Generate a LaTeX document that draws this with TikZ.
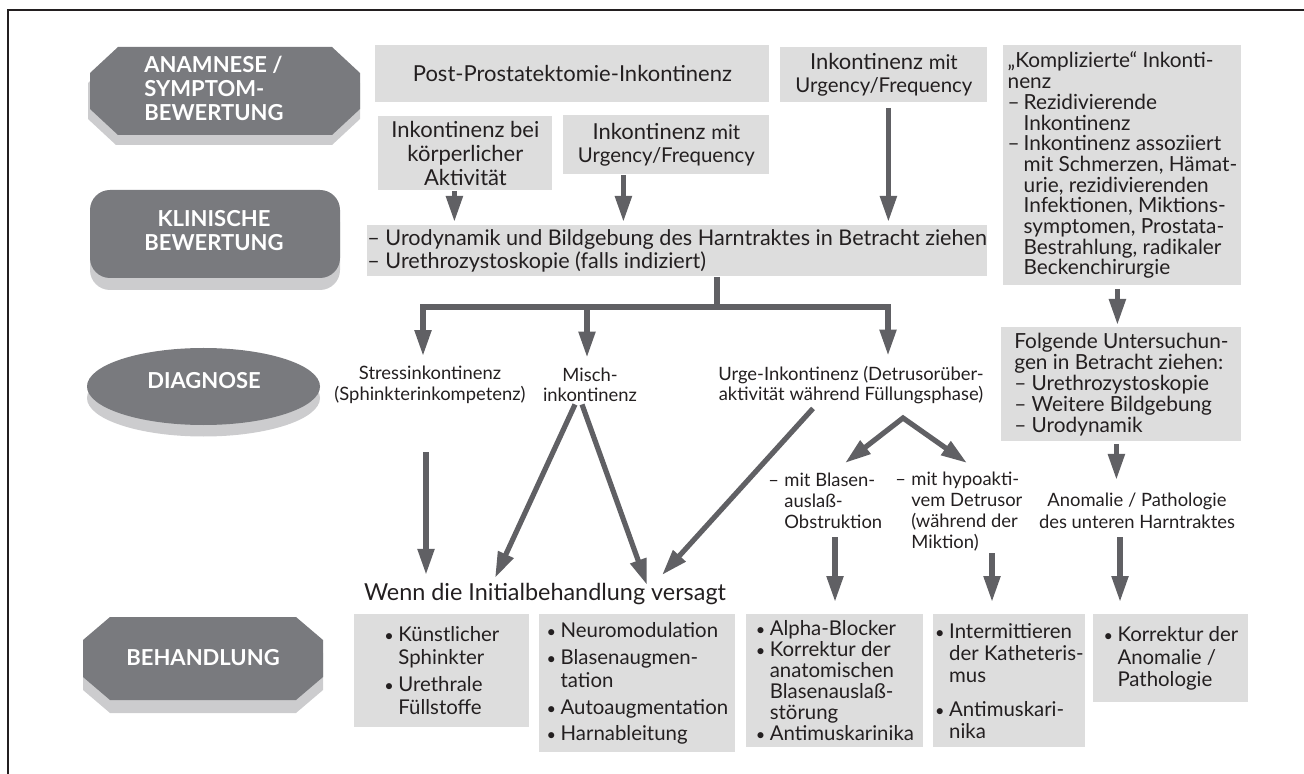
\documentclass[tikz,border=0pt]{standalone}
\usepackage{fontspec}
\setmainfont{Lato}
\usepackage{tikz}
\usetikzlibrary{arrows.meta, positioning}

\definecolor{kastengrau}{gray}{0.865}
\definecolor{stufengrau}{RGB}{121,122,126}
\definecolor{schatten}{RGB}{204,204,206}
\definecolor{pfeilgrau}{RGB}{96,96,100}
\definecolor{schrift}{RGB}{35,31,32}

% Einzuege fuer Listen
\newcommand{\strich}{\makebox[8pt][l]{–}}
\newcommand{\einzug}{\hspace*{8pt}}
\newcommand{\pkt}{\makebox[7pt][l]{\scalebox{0.8}{\textbullet}}}
\newcommand{\pktein}{\hspace*{7pt}}
\newcommand{\klein}{\fontsize{10.2}{11.5}\selectfont}

% Achteck mit abgeschraegten Ecken: Farbe, x1, y1, x2, y2, dx, dy
\newcommand{\achteck}[7]{%
	\fill[#1] (#2+#6,#3) -- (#4-#6,#3) -- (#4,#3+#7) -- (#4,#5-#7) -- (#4-#6,#5) -- (#2+#6,#5) -- (#2,#5-#7) -- (#2,#3+#7) -- cycle;}

\begin{document}
\begin{tikzpicture}[x=0.5pt, y=-0.5pt,
	kasten/.style={fill=kastengrau, anchor=north west, inner sep=0pt, align=left, text=schrift},
	etikett/.style={inner sep=0pt, text=schrift, font=\fontsize{9.2}{10.2}\selectfont},
	stufe/.style={inner sep=0pt, text=white, font=\fontsize{11}{12}\selectfont\bfseries},
	linie/.style={draw=pfeilgrau, line width=2.6pt, line join=miter},
	spitze/.tip={Triangle[length=13pt, width=8pt]},
	pfeil/.style={linie, -spitze}]

\useasboundingbox (0,0) rectangle (1304,774);

% Rahmen
\draw[schrift, line width=0.75pt] (8,774) -- (8,10) -- (1304,10);

% Stufen links (mit Schatten)
\achteck{schatten}{88}{57}{360}{145}{28}{26}
\achteck{stufengrau}{90}{47}{360}{135}{28}{26}
\fill[schatten, rounded corners=10pt] (90,202) rectangle (340,290);
\fill[stufengrau, rounded corners=10pt] (90,190) rectangle (340,278);
\fill[schatten] (203.5,398) ellipse [x radius=58.25pt, y radius=19.25pt];
\fill[stufengrau] (203.5,386.5) ellipse [x radius=58.25pt, y radius=19.25pt];
\achteck{schatten}{83}{630}{323}{713}{27}{23}
\achteck{stufengrau}{83}{617}{323}{700}{27}{23}

\node[stufe, align=left] (anamnese) at (214,88) {ANAMNESE /\\SYMPTOM-\\BEWERTUNG};
\node[stufe, align=center] (klinisch) at (214,231) {KLINISCHE\\BEWERTUNG};
\node[stufe] (diagnose) at (204,381) {DIAGNOSE};
\node[stufe] (behandlung) at (203,658) {BEHANDLUNG};

% Anamnese / Symptombewertung
\node[kasten, minimum width=197pt, minimum height=28.5pt, align=center, font=\fontsize{11}{12}\selectfont] (post) at (375,45) {Post-Prostatektomie-Inkontinenz};
\node[kasten, minimum width=103.5pt, minimum height=27.5pt, align=center, font=\fontsize{11}{11.5}\selectfont] (urgtop) at (780,47) {Inkontinenz {\klein mit}\\{\klein Urgency/Frequency}};
\node[kasten, minimum width=87pt, minimum height=37pt, align=center, font=\fontsize{11}{11.8}\selectfont] (aktiv) at (378,116) {Inkontinenz bei\\körperlicher\\Aktivität};
\node[kasten, minimum width=103pt, minimum height=29.5pt, align=center, font=\fontsize{11}{11.5}\selectfont] (urgmid) at (563,115) {Inkontinenz {\klein mit}\\{\klein Urgency/Frequency}};
\node[kasten, minimum width=119pt, minimum height=120pt, font=\fontsize{10.4}{10.35}\selectfont] (kompl) at (1003,45) {„Komplizierte“ Inkonti-\\nenz\\\strich Rezidivierende\\\einzug Inkontinenz\\\strich Inkontinenz assoziiert\\\einzug mit Schmerzen, Hämat-\\\einzug urie, rezidivierenden\\\einzug Infektionen, Miktions-\\\einzug symptomen, Prostata-\\\einzug Bestrahlung, radikaler\\\einzug Beckenchirurgie};

% Klinische Bewertung
\node[kasten, minimum width=308pt, minimum height=25.5pt, font=\fontsize{10.8}{11.5}\selectfont] (uro) at (367,225) {– Urodynamik und Bildgebung des Harntraktes in Betracht ziehen\\– Urethrozystoskopie (falls indiziert)};
\node[kasten, minimum width=120pt, minimum height=57pt, font=\fontsize{10.4}{10.5}\selectfont] (folg) at (1001,327) {Folgende Untersuchun-\\gen in Betracht ziehen:\\– Urethrozystoskopie\\– Weitere Bildgebung\\– Urodynamik};

% Diagnose
\node[etikett, align=center] (stress) at (430,385) {Stressinkontinenz\\(Sphinkterinkompetenz)};
\node[etikett, align=center] (misch) at (590,385) {Misch-\\inkontinenz};
\node[etikett, align=center] (urge) at (851,385) {Urge-Inkontinenz (Detrusorüber-\\aktivität während Füllungsphase)};
\node[etikett, align=left, anchor=west, font=\fontsize{9.2}{10.5}\selectfont] (blasen) at (768,501) {\strich mit Blasen-\\\einzug auslaß-\\\einzug Obstruktion};
\node[etikett, align=left, anchor=west, font=\fontsize{9.2}{10.5}\selectfont] (hypo) at (895,512) {\strich mit hypoakti-\\\einzug vem Detrusor\\\einzug (während der\\\einzug Miktion)};
\node[etikett, align=center, font=\fontsize{9.2}{10.8}\selectfont] (anomalie) at (1137,511) {Anomalie / Pathologie\\des unteren Harntraktes};
\node[inner sep=0pt, text=schrift, font=\fontsize{11.7}{12}\selectfont] (wenn) at (545,594) {Wenn die Initialbehandlung versagt};

% Behandlung
\node[kasten, minimum width=87.5pt, minimum height=56.5pt, font=\fontsize{10.2}{11.5}\selectfont] (b1) at (354,614) {\pkt Künstlicher\\\pktein Sphinkter\\[2pt]\pkt Urethrale\\\pktein Füllstoffe};
\node[kasten, minimum width=98pt, minimum height=69pt, font=\fontsize{10.2}{11.5}\selectfont] (b2) at (539,614) {\pkt Neuromodulation\\[2pt]\pkt Blasenaugmen-\\\pktein tation\\[2pt]\pkt Autoaugmentation\\[1.5pt]\pkt Harnableitung};
\node[kasten, minimum width=88.5pt, minimum height=66.5pt, font=\fontsize{10.2}{10.5}\selectfont] (b3) at (746,614) {\pkt Alpha-Blocker\\\pkt Korrektur der\\\pktein anatomischen\\\pktein Blasenauslaß-\\\pktein störung\\\pkt Antimuskarinika};
\node[kasten, minimum width=76pt, minimum height=66.5pt, font=\fontsize{10.2}{11}\selectfont] (b4) at (933,614) {\pkt Intermittieren\\\pktein der Katheteris-\\\pktein mus\\[6pt]\pkt Antimuskari-\\\pktein nika};
\node[kasten, minimum width=77.5pt, minimum height=44pt, font=\fontsize{10.2}{11.2}\selectfont] (b5) at (1093,614) {\pkt Korrektur der\\\pktein Anomalie /\\\pktein Pathologie};

% Pfeile oben
\coordinate (p1) at ([xshift=-5.5pt]aktiv.south);
\coordinate (p2) at ([xshift=-21.5pt]urgmid.south);
\coordinate (p3) at ([xshift=2.25pt, yshift=-2.5pt]urgtop.south);
\draw[pfeil, shorten >=1.5pt] (p1) -- (p1 |- uro.north);
\draw[pfeil, shorten >=1.5pt] (p2) -- (p2 |- uro.north);
\draw[pfeil, shorten >=1.5pt] (p3) -- (p3 |- uro.north);

% Verzweigung zur Diagnose
\coordinate (knoten) at (717,307);
\coordinate (astL) at (423,307);
\coordinate (astM) at (587,307);
\coordinate (astR) at (888,307);
\draw[linie] (knoten |- uro.south) -- (knoten);
\draw[pfeil, shorten >=5pt] (knoten) -- (astL) -- (astL |- stress.north);
\draw[pfeil, shorten >=5pt] (knoten) -- (astR) -- (astR |- urge.north);
\draw[pfeil, shorten >=5pt] (astM) -- (astM |- misch.north);

% Diagnose -> Initialbehandlung versagt
\coordinate (s1) at (426,452);
\coordinate (w1) at (495,578);
\coordinate (w2) at (647,585);
\coordinate (w3) at (662,575);
\draw[pfeil, shorten >=4pt] (s1) -- (s1 |- wenn.north);
\draw[pfeil] ([xshift=-7.5pt, yshift=-1pt]misch.south) -- (w1);
\draw[pfeil] ([xshift=-4pt, yshift=-1pt]misch.south) -- (w2);
\draw[pfeil] ([xshift=-19pt, yshift=-2pt]urge.south) -- (w3);

% Urge-Inkontinenz: Gabel
\coordinate (gabel) at (903,418);
\coordinate (g1) at (845,463);
\coordinate (g2) at (967,463);
\draw[linie, spitze-spitze] (g1) -- (gabel) -- (g2);

% Pfeile zur Behandlung
\coordinate (u1) at (835,537);
\coordinate (u2) at (992,553);
\coordinate (u3) at (1120,537);
\draw[pfeil, shorten >=6pt] (u1) -- (u1 |- b3.north);
\draw[pfeil, shorten >=6pt] (u2) -- (u2 |- b4.north);
\draw[pfeil, shorten >=6pt] (u3) -- (u3 |- b5.north);

% rechte Spalte
\coordinate (r1) at ([xshift=-2.5pt, yshift=-1.5pt]kompl.south);
\coordinate (r2) at ([xshift=-2.5pt, yshift=-1pt]folg.south);
\draw[pfeil, shorten >=1pt] (r1) -- (r1 |- folg.north);
\draw[pfeil, shorten >=6.5pt] (r2) -- (r2 |- anomalie.north);

\end{tikzpicture}
\end{document}
